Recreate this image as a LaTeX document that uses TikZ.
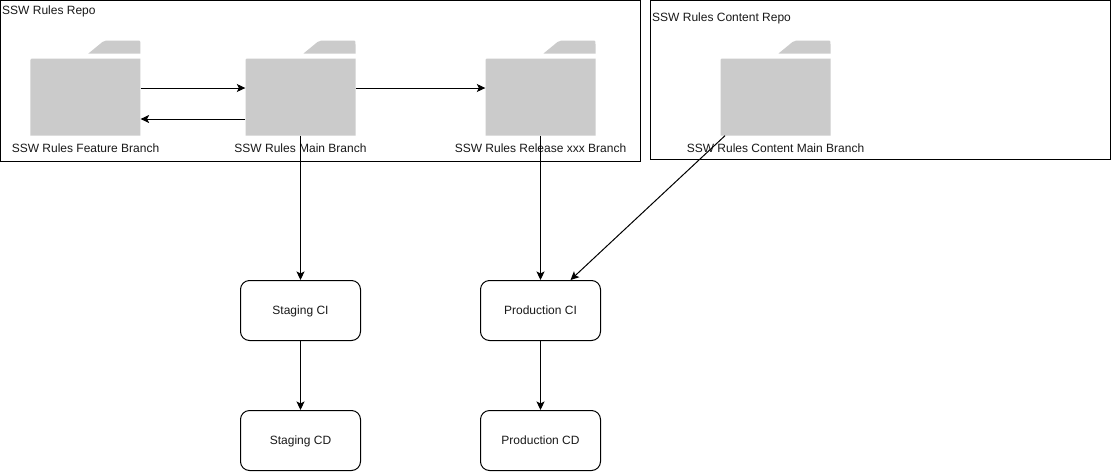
\documentclass[tikz,border=0pt]{standalone}
\usepackage{fontspec}
\setmainfont{Liberation Sans}
\usetikzlibrary{arrows.meta}
\definecolor{foldergrey}{HTML}{CBCBCB}
\tikzset{
  x=1pt,y=-1pt,
  every node/.style={font=\fontsize{12}{14}\selectfont,text=black!90,inner sep=0pt,text height=10pt,text depth=2pt},
  repobox/.style={draw=black,line width=1pt,fill=white,outer sep=0pt},
  stagebox/.style={draw=black,line width=1pt,rounded corners=9pt,minimum width=120pt,minimum height=60pt,fill=white},
  folderbox/.style={minimum width=110pt,minimum height=95pt},
  conn/.style={draw=black,line width=1pt,-{Stealth[length=8.5pt,width=8pt,inset=2pt]}},
  foldfill/.style={fill=foldergrey,draw=none},
  pics/folder/.style={code={
    \path[foldfill] (-55,47.5) -- (-55,-25.5) .. controls (-55,-29.5) .. (-51,-29.5) -- (55,-29.5) -- (55,47.5) -- cycle;
    \path[foldfill] (55,-34.5) -- (55,-43.5) .. controls (55,-47.5) .. (51,-47.5) -- (21,-47.5) .. controls (19,-47.5) .. (17,-46) -- (3,-34.5) -- cycle;
  }}
}
\begin{document}
\begin{tikzpicture}
\useasboundingbox (0,0) rectangle (1111,472);
\node[repobox,minimum width=639.5pt,minimum height=160.5pt,anchor=north west] (rulesrepo) at (0.5,0.5) {};
\node[repobox,minimum width=460pt,minimum height=158.5pt,anchor=north west] (contentrepo) at (650.5,0.5) {};
\node[anchor=west] (rulestitle) at (2,10.5) {SSW Rules Repo};
\node[anchor=west] (contenttitle) at (652,17.5) {SSW Rules Content Repo};
\pic at (85.4,88) {folder};
\pic at (300.5,88) {folder};
\pic at (540.5,88) {folder};
\pic at (775.5,88) {folder};
\node[folderbox] (feature) at (85.4,88) {};
\node[folderbox] (main) at (300.5,88) {};
\node[folderbox] (release) at (540.5,88) {};
\node[folderbox] (content) at (775.5,88) {};
\node (featurelabel) at (85.5,148.5) {SSW Rules Feature Branch};
\node (mainlabel) at (300.5,148.5) {SSW Rules Main Branch};
\node (releaselabel) at (540.5,148.5) {SSW Rules Release xxx Branch};
\node (contentlabel) at (775.5,148.5) {SSW Rules Content Main Branch};
\node[stagebox] (stagingci) at (300.5,310.5) {Staging CI};
\node[stagebox] (stagingcd) at (300.5,440.5) {Staging CD};
\node[stagebox] (prodci) at (540.5,310.5) {Production CI};
\node[stagebox] (prodcd) at (540.5,440.5) {Production CD};
\draw[conn] (feature.east) -- (main.west);
\draw[conn] ([yshift=-31pt]main.west) -- ([yshift=-31pt]feature.east);
\draw[conn] (main.east) -- (release.west);
\draw[conn] (main.south) -- (stagingci.north);
\draw[conn] (release.south) -- (prodci.north);
\draw[conn] ([xshift=-50.5pt]content.south) -- ([xshift=30pt]prodci.north);
\draw[conn] (stagingci.south) -- (stagingcd.north);
\draw[conn] (prodci.south) -- (prodcd.north);
\end{tikzpicture}
\end{document}
